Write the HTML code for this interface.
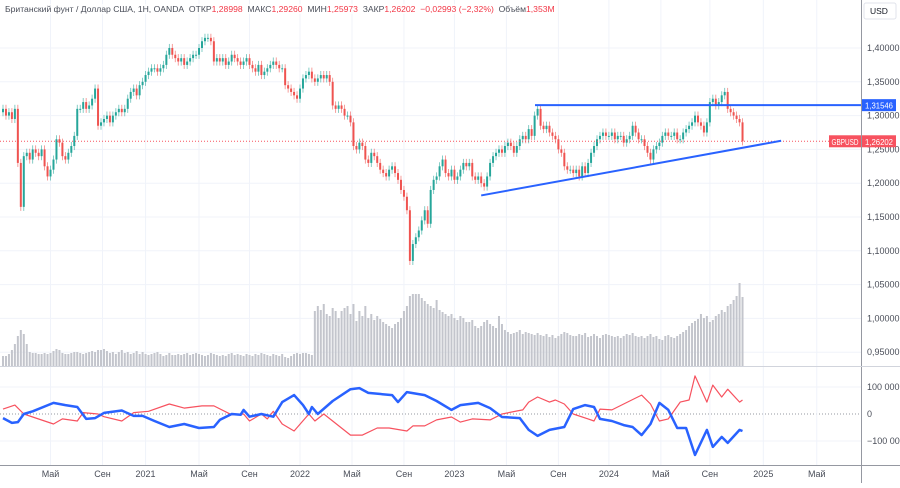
<!DOCTYPE html>
<html><head><meta charset="utf-8">
<style>
html,body{margin:0;padding:0;background:#fff;}
body{width:900px;height:483px;overflow:hidden;font-family:"Liberation Sans","DejaVu Sans",sans-serif;}
svg text{font-family:"Liberation Sans","DejaVu Sans",sans-serif;}
</style></head>
<body>
<svg id="chart" width="900" height="483" xmlns="http://www.w3.org/2000/svg">
<g id="grid"></g>
<g id="vol"></g>
<g id="candles"></g>
<g id="osc"></g>
<g id="overlay"></g>
<g id="axes"></g>
</svg>
<script>
const closes=[1.31,1.30,1.305,1.295,1.31,1.23,1.165,1.24,1.245,1.235,
1.25,1.245,1.24,1.25,1.225,1.21,1.22,1.235,1.265,1.26,
1.24,1.235,1.245,1.255,1.27,1.31,1.31,1.32,1.31,1.315,
1.325,1.34,1.285,1.29,1.295,1.30,1.29,1.30,1.305,1.31,
1.305,1.31,1.325,1.335,1.34,1.33,1.345,1.35,1.36,1.365,
1.37,1.37,1.365,1.37,1.375,1.39,1.40,1.39,1.385,1.38,
1.385,1.375,1.38,1.385,1.39,1.39,1.40,1.41,1.415,1.415,
1.41,1.38,1.385,1.38,1.385,1.375,1.38,1.39,1.385,1.38,
1.375,1.38,1.385,1.375,1.37,1.365,1.375,1.36,1.365,1.37,
1.375,1.38,1.375,1.37,1.37,1.345,1.34,1.335,1.33,1.325,
1.34,1.355,1.36,1.365,1.355,1.35,1.355,1.36,1.355,1.36,
1.35,1.315,1.31,1.315,1.31,1.30,1.30,1.29,1.255,1.25,
1.26,1.255,1.235,1.23,1.245,1.24,1.23,1.22,1.215,1.21,
1.22,1.225,1.215,1.205,1.19,1.18,1.16,1.085,1.11,1.12,
1.13,1.145,1.16,1.14,1.19,1.205,1.21,1.225,1.235,1.215,
1.21,1.22,1.205,1.21,1.22,1.23,1.225,1.23,1.21,1.205,
1.21,1.20,1.195,1.21,1.23,1.24,1.245,1.25,1.245,1.255,
1.26,1.255,1.245,1.255,1.265,1.27,1.265,1.28,1.27,1.30,
1.31,1.285,1.28,1.285,1.275,1.27,1.265,1.25,1.245,1.225,
1.22,1.22,1.215,1.22,1.21,1.225,1.215,1.23,1.245,1.255,
1.265,1.27,1.275,1.27,1.27,1.275,1.265,1.27,1.27,1.26,
1.265,1.27,1.285,1.275,1.265,1.265,1.255,1.245,1.235,1.25,
1.255,1.26,1.27,1.275,1.27,1.27,1.275,1.265,1.265,1.275,
1.28,1.285,1.29,1.30,1.29,1.285,1.275,1.29,1.32,1.325,
1.315,1.32,1.33,1.335,1.31,1.305,1.30,1.295,1.29,1.262];
const volumes=[10,10,12,16,22,30,36,32,22,14,
13,13,12,12,13,12,13,15,17,16,
13,12,12,13,14,14,13,12,13,14,
15,14,16,16,17,15,13,14,12,14,
16,13,14,12,13,15,12,14,12,11,
12,13,14,12,10,11,13,11,11,12,
11,12,13,11,12,13,12,11,10,11,
13,12,11,10,11,10,12,13,11,12,
11,10,12,11,10,12,11,13,12,11,
10,12,11,10,12,9,8,10,12,13,
12,13,13,12,11,55,60,56,62,52,
50,58,55,48,55,58,60,52,62,45,
55,50,60,48,52,46,50,47,44,42,
40,38,42,44,48,55,60,70,72,72,
72,68,65,62,60,58,66,56,54,52,
50,52,48,46,50,48,44,44,46,40,
38,40,44,46,42,40,38,50,42,36,
34,32,33,34,36,32,34,33,32,31,
33,31,30,32,29,31,28,30,32,34,
33,31,30,30,32,31,33,29,30,32,
30,28,31,32,31,30,29,30,28,30,
32,31,33,30,29,30,28,30,32,29,
30,27,26,30,31,29,28,30,32,34,
36,40,43,45,47,52,48,50,44,46,
50,52,56,54,60,62,66,70,83,69];
const blueWeeks=[0,3,5,7,10,17,21,25,28,31,34,40,44,47,51,56,61,66,71,73,77,80,81,83,87,91,94,98,101,103,104,106,111,117,120,123,131,133,136,142,146,151,154,160,164,168,174,177,180,184,189,192,196,199,201,205,209,212,215,218,221,224,227,230,233,237,239,242,244,248,249];
const blueVals=[-15,-33,-30,0,10,41,33,26,-18,-15,4,13,-7,-7,-26,-48,-37,-52,-48,-22,0,-3,15,-10,0,-10,44,70,33,0,26,0,48,92,96,78,70,44,81,70,48,15,33,41,22,-11,-15,-59,-81,-59,-48,18,33,26,-18,-26,-41,-48,-78,-37,41,15,-52,-52,-152,-59,-122,-85,-107,-59,-63];
const redWeeks=[0,4,7,17,20,25,27,32,34,40,44,49,56,61,67,71,77,81,83,87,89,91,94,98,103,105,108,117,121,126,130,136,138,142,146,151,154,158,164,168,173,175,177,180,184,186,189,192,197,199,201,205,209,215,218,221,224,228,231,233,237,239,242,244,248,249];
const redVals=[18,33,0,-37,-18,-26,5,0,-10,-26,5,10,37,22,30,30,-3,0,-26,0,-18,10,-37,-63,0,-26,0,-78,-78,-52,-52,-63,-44,-44,-22,-11,-30,-18,-22,0,11,15,44,63,44,52,37,0,-18,-26,18,15,37,70,37,-26,-18,44,52,141,44,107,63,92,44,52];
const priceTicks=[1.40,1.35,1.30,1.25,1.20,1.15,1.10,1.05,1.00,0.95];
const oscTicks=[100,0,-100];
const oscTickLabels=["100 000","0","\u2212100 000"];
const timeLabels=["Май","Сен","2021","Май","Сен","2022","Май","Сен","2023","Май","Сен","2024","Май","Сен","2025","Май"];
const timeLabelWeeks=[16,33.5,48,66,83,100,117.5,135,152,169.5,187,204,221.5,238,256,274];
const resistance=1.31546, lastPrice=1.26202;
const trendStart=[161,1.1819], trendEnd=[262,1.2628];

const NS="http://www.w3.org/2000/svg";
const PW=861;
const xW=w=>2+w*2.97+1;
const yP=p=>48+(1.40-p)/0.05*33.8;
const yV=v=>366-v;
const yO=v=>414-v*0.27;
function mk(tag,attrs,parent){const e=document.createElementNS(NS,tag);for(const k in attrs)e.setAttribute(k,attrs[k]);parent.appendChild(e);return e;}
const G=id=>document.getElementById(id);

const grid=G('grid');
priceTicks.forEach(p=>{const l=mk('line',{x1:0,x2:PW,y1:yP(p),y2:yP(p),stroke:'#f0f3fa','stroke-width':1},grid);

});
oscTicks.forEach(v=>{const l=mk('line',{x1:0,x2:PW,y1:yO(v),y2:yO(v),stroke:v===0?'#9598a1':'#f0f3fa','stroke-width':1,'stroke-dasharray':v===0?'1 2':'none'},grid);

});
timeLabelWeeks.forEach(w=>{const l=mk('line',{x1:xW(w),x2:xW(w),y1:0,y2:465,stroke:'#f0f3fa','stroke-width':1},grid);

});

const vol=G('vol');
volumes.forEach((v,i)=>{const r=mk('rect',{x:xW(i)-1,y:yV(v),width:2,height:v,fill:'#c3c5cc'},vol);

});

const cg=G('candles');
closes.forEach((c,i)=>{
 const o=i===0?1.305:closes[i-1];
 const up=c>=o, col=up?'#26a69a':'#ef5350';
 const hi=Math.max(o,c)+0.006, lo=Math.min(o,c)-0.006;
 const x=xW(i);
 const w=mk('line',{x1:x,x2:x,y1:yP(hi),y2:yP(lo),stroke:col,'stroke-width':0.8,opacity:0.7},cg);
 
 
 const t=Math.min(yP(o),yP(c)),h=Math.max(1,Math.abs(yP(o)-yP(c)));
 const b=mk('rect',{x:x-1,y:t,width:2,height:h,fill:col},cg);
 
 
});

const og=G('osc');
const pts=(ws,vs)=>ws.map((w,i)=>xW(w).toFixed(1)+','+yO(vs[i]).toFixed(1)).join(' ');
const rl=mk('polyline',{points:pts(redWeeks,redVals),fill:'none',stroke:'#f7525f','stroke-width':1.2,'stroke-linejoin':'round'},og);


const bl=mk('polyline',{points:pts(blueWeeks,blueVals),fill:'none',stroke:'#2962ff','stroke-width':2.5,'stroke-linejoin':'round'},og);



const ov=G('overlay');
const pl=mk('line',{x1:0,x2:PW,y1:yP(lastPrice),y2:yP(lastPrice),stroke:'#f7525f','stroke-width':1,'stroke-dasharray':'1 2'},ov);


const hr=mk('line',{x1:535,x2:PW,y1:yP(resistance),y2:yP(resistance),stroke:'#2962ff','stroke-width':2},ov);


const tl=mk('line',{x1:xW(trendStart[0]),y1:yP(trendStart[1]),x2:xW(trendEnd[0]),y2:yP(trendEnd[1]),stroke:'#2962ff','stroke-width':2},ov);



const ax=G('axes');
function ln(x1,y1,x2,y2,c,name){const l=mk('line',{x1,y1,x2,y2,stroke:c,'stroke-width':1},ax);}
ln(861.5,0,861.5,483,'#9598a1','price-axis-border');
ln(0,366.5,900,366.5,'#d1d4dc','pane-separator');
ln(0,465.5,900,465.5,'#9598a1','time-axis-border');
function tx(x,y,s,attrs,name,inter){const t=mk('text',Object.assign({x,y,'font-size':9,fill:'#131722'},attrs||{}),ax);t.textContent=s;return t;}
priceTicks.forEach(p=>tx(867,yP(p)+3,p.toFixed(5).replace('.',','),{fill:'#4a4e59'},'price-tick-label'));
oscTicks.forEach((v,i)=>tx(867,yO(v)+3,oscTickLabels[i],{fill:'#4a4e59'},'osc-tick-label'));
timeLabels.forEach((s,i)=>tx(xW(timeLabelWeeks[i]),477,s,{'text-anchor':'middle',fill:'#4a4e59'},'time-tick-label'));
const ub=mk('rect',{x:864,y:3,width:32,height:16,rx:2,fill:'#fff',stroke:'#e0e3eb'},ax);


tx(870,14,'USD',{'font-size':8.5},'currency-label',true);
const rb=mk('rect',{x:862,y:yP(resistance)-6,width:34,height:12,fill:'#2962ff'},ax);


tx(865,yP(resistance)+3.5,'1,31546',{fill:'#fff','font-size':8.5,textLength:28,lengthAdjust:'spacingAndGlyphs'},'resistance-price-text');
const gb=mk('rect',{x:829,y:yP(lastPrice)-6,width:32,height:12,fill:'#f7525f'},ax);


tx(831.5,yP(lastPrice)+3.5,'GBPUSD',{fill:'#fff','font-size':8,textLength:27,lengthAdjust:'spacingAndGlyphs'},'symbol-tag-text');
const lb=mk('rect',{x:862,y:yP(lastPrice)-6,width:34,height:12,fill:'#f7525f'},ax);


tx(865,yP(lastPrice)+3.5,'1,26202',{fill:'#fff','font-size':8.5,textLength:28,lengthAdjust:'spacingAndGlyphs'},'last-price-text');
</script>
<div style="position:absolute;left:5px;top:4px;font-size:8.6px;color:#4a4e59;white-space:nowrap;background:rgba(255,255,255,0.7);">Британский фунт / Доллар США, 1Н, OANDA&nbsp; ОТКР<span style="color:#f23645">1,28998</span>&nbsp; МАКС<span style="color:#f23645">1,29260</span>&nbsp; МИН<span style="color:#f23645">1,25973</span>&nbsp; ЗАКР<span style="color:#f23645">1,26202</span>&nbsp; <span style="color:#f23645">−0,02993 (−2,32%)</span>&nbsp; Объём<span style="color:#f23645">1,353M</span></div>
</body></html>
